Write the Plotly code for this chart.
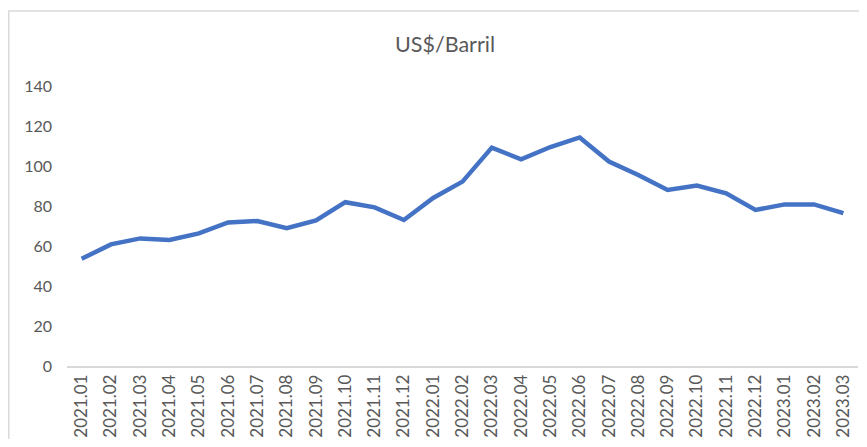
import plotly.graph_objects as go

months = ["2021.01", "2021.02", "2021.03", "2021.04", "2021.05", "2021.06", "2021.07",
          "2021.08", "2021.09", "2021.10", "2021.11", "2021.12", "2022.01", "2022.02",
          "2022.03", "2022.04", "2022.05", "2022.06", "2022.07", "2022.08", "2022.09",
          "2022.10", "2022.11", "2022.12", "2023.01", "2023.02", "2023.03"]
price = [53.6, 60.8, 63.8, 63.0, 66.3, 71.8, 72.5, 68.9, 72.8, 81.9, 79.3, 73.0, 84.0,
         92.2, 109.2, 103.3, 109.5, 114.3, 102.2, 95.5, 88.0, 90.2, 86.3, 78.0, 80.8,
         80.8, 76.4]
y_ticks = [0, 20, 40, 60, 80, 100, 120, 140]

fig = go.Figure()
fig.add_trace(go.Scatter(x=months, y=price, mode="lines",
                         line=dict(color="#4472C4", width=4.5), showlegend=False))

font_family = "Lato, 'Open Sans', sans-serif"
fig.update_layout(
    width=851, height=431,
    margin=dict(l=59, r=1, t=78, b=73),
    paper_bgcolor="white", plot_bgcolor="white",
    title=dict(text="US$/Barril", x=0.5135, xanchor="center", y=0.9165, yanchor="middle",
               font=dict(family=font_family, size=21.5, color="#595959")),
    font=dict(family=font_family, color="#595959", size=14),
    xaxis=dict(type="category", range=[-0.5, len(months) - 0.5], tickangle=-90,
               showgrid=False, showline=True, linecolor="#D9D9D9", linewidth=1.5,
               ticks="", zeroline=False, tickfont=dict(size=17, color="#595959")),
    yaxis=dict(range=[0, 140], tickvals=y_ticks, showgrid=False, zeroline=False,
               showline=False, ticks="", ticklabelstandoff=14,
               tickfont=dict(size=16, color="#595959")),
    shapes=[dict(type="rect", xref="paper", yref="paper",
                 x0=-0.0736, x1=1.05, y0=-0.4, y1=1.268,
                 line=dict(color="#D9D9D9", width=1.5), fillcolor="rgba(0,0,0,0)",
                 layer="below")],
)

fig.write_html("out.html")
